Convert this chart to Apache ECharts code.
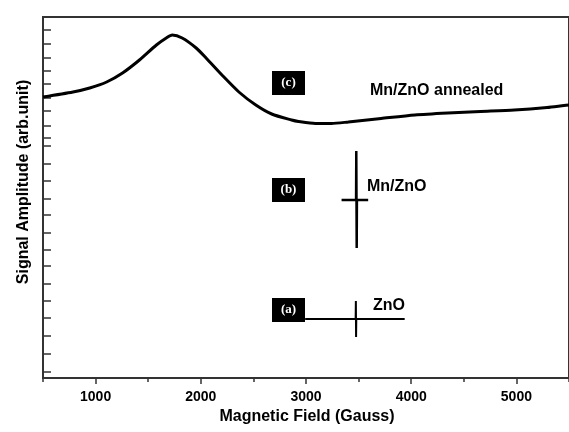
<!DOCTYPE html>
<html>
<head>
<meta charset="utf-8">
<script src="https://cdn.jsdelivr.net/npm/echarts@6/dist/echarts.min.js"></script>
<style>html,body{margin:0;padding:0;background:#fff;}#chart{width:569px;height:432px;}</style>
</head>
<body>
<div id="chart"></div>
<script>
// Magnetic field (Gauss) / signal amplitude (arb. unit)
var annealedField = [500, 785, 944, 1105, 1256, 1417, 1578, 1672, 1729, 1823, 1956, 2050, 2201, 2362, 2523, 2674, 2863, 2929, 3090, 3241, 3402, 3714, 4035, 4347, 4659, 4980, 5292, 5453, 5500];
var annealedAmp   = [281, 286, 290, 296, 305, 318, 333, 340, 343, 340, 330, 320, 303, 286, 273, 264, 258, 256.5, 254.5, 254.5, 256, 259.5, 263, 265, 266.5, 268, 270.5, 272.5, 273];
var mnznoField = [3338, 3476, 3478, 3482, 3484, 3591];
var mnznoAmp   = [178, 178, 227, 130, 178, 178];
var znoField = [2992, 3472, 3474, 3476, 3478, 3938];
var znoAmp   = [59, 59, 77, 41, 59, 59];
var xTickLabels = [1000, 2000, 3000, 4000, 5000];
var xMinorTicks = [500, 1500, 2500, 3500, 4500, 5500];
var yTicks = [348, 334.7, 320.7, 307, 294, 280.7, 267.3, 252.3, 240.7, 232, 214.7, 197.3, 179.7, 163, 145.3, 128, 112, 94.5, 77, 60, 42, 24, 6];
var seriesNames = ['Mn/ZnO annealed', 'Mn/ZnO', 'ZnO'];
var panelTags = ['(c)', '(b)', '(a)'];

function zip(a, b) { return a.map(function (v, i) { return [v, b[i]]; }); }

var chart = echarts.init(document.getElementById('chart'), null, {renderer: 'canvas'});
var lineColor = '#000';
var axisColor = '#333';
var sans = 'Liberation Sans, Arial, sans-serif';

function tagBox(x, y, txt) {
  return [
    {type: 'rect', shape: {x: x, y: y, width: 33, height: 24}, style: {fill: '#000'}},
    {type: 'text', x: x + 16.5, y: y + 12, style: {text: txt, fill: '#fff', font: 'bold 13px "Liberation Serif", serif', align: 'center', verticalAlign: 'middle'}}
  ];
}

var graphics = [].concat(
  tagBox(272, 71, panelTags[0]),
  tagBox(272, 178, panelTags[1]),
  tagBox(272, 298, panelTags[2]),
  [
    {type: 'text', x: 370, y: 91, style: {text: seriesNames[0], fill: '#000', font: 'bold 16px ' + sans, align: 'left', verticalAlign: 'middle'}},
    {type: 'text', x: 367, y: 187, style: {text: seriesNames[1], fill: '#000', font: 'bold 16px ' + sans, align: 'left', verticalAlign: 'middle'}},
    {type: 'text', x: 373, y: 306, style: {text: seriesNames[2], fill: '#000', font: 'bold 16px ' + sans, align: 'left', verticalAlign: 'middle'}},
    {type: 'text', x: 307, y: 417, style: {text: 'Magnetic Field (Gauss)', fill: '#000', font: 'bold 16px ' + sans, align: 'center', verticalAlign: 'middle'}},
    {type: 'text', x: 24, y: 182, rotation: Math.PI / 2, style: {text: 'Signal Amplitude (arb.unit)', fill: '#000', font: 'bold 16px ' + sans, align: 'center', verticalAlign: 'middle'}}
  ]
);

var option = {
  animation: false,
  backgroundColor: '#fff',
  grid: {left: 43, top: 17, right: -3, bottom: 54, show: true, borderColor: axisColor, borderWidth: 2, backgroundColor: 'transparent'},
  xAxis: [
    {
      type: 'value', min: 500, max: 5500, position: 'bottom',
      axisLine: {show: true, lineStyle: {color: axisColor, width: 2}},
      axisTick: {show: true, inside: false, length: 6, lineStyle: {color: axisColor, width: 1.5}, customValues: xTickLabels},
      axisLabel: {show: true, margin: 12, color: '#000', fontSize: 14, fontWeight: 'bold', fontFamily: sans, customValues: xTickLabels,
        formatter: function (v) { return String(v); }},
      splitLine: {show: false}
    },
    {
      type: 'value', min: 500, max: 5500, position: 'bottom', offset: 0,
      axisLine: {show: false},
      axisTick: {show: true, inside: false, length: 4, lineStyle: {color: axisColor, width: 1.5}, customValues: xMinorTicks},
      axisLabel: {show: false},
      splitLine: {show: false}
    }
  ],
  yAxis: {
    type: 'value', min: 0, max: 361, position: 'left',
    axisLine: {show: true, lineStyle: {color: axisColor, width: 2}},
    axisTick: {show: true, inside: true, length: 8, lineStyle: {color: axisColor, width: 1.5}, customValues: yTicks},
    axisLabel: {show: false},
    splitLine: {show: false}
  },
  series: [
    {name: seriesNames[0], type: 'line', xAxisIndex: 0, data: zip(annealedField, annealedAmp), showSymbol: false, smooth: 0.25, lineStyle: {color: lineColor, width: 3}},
    {name: seriesNames[1], type: 'line', xAxisIndex: 0, data: zip(mnznoField, mnznoAmp), showSymbol: false, lineStyle: {color: lineColor, width: 2.5}},
    {name: seriesNames[2], type: 'line', xAxisIndex: 0, data: zip(znoField, znoAmp), showSymbol: false, lineStyle: {color: lineColor, width: 2}}
  ],
  graphic: graphics
};
chart.setOption(option);
</script>
</body>
</html>
